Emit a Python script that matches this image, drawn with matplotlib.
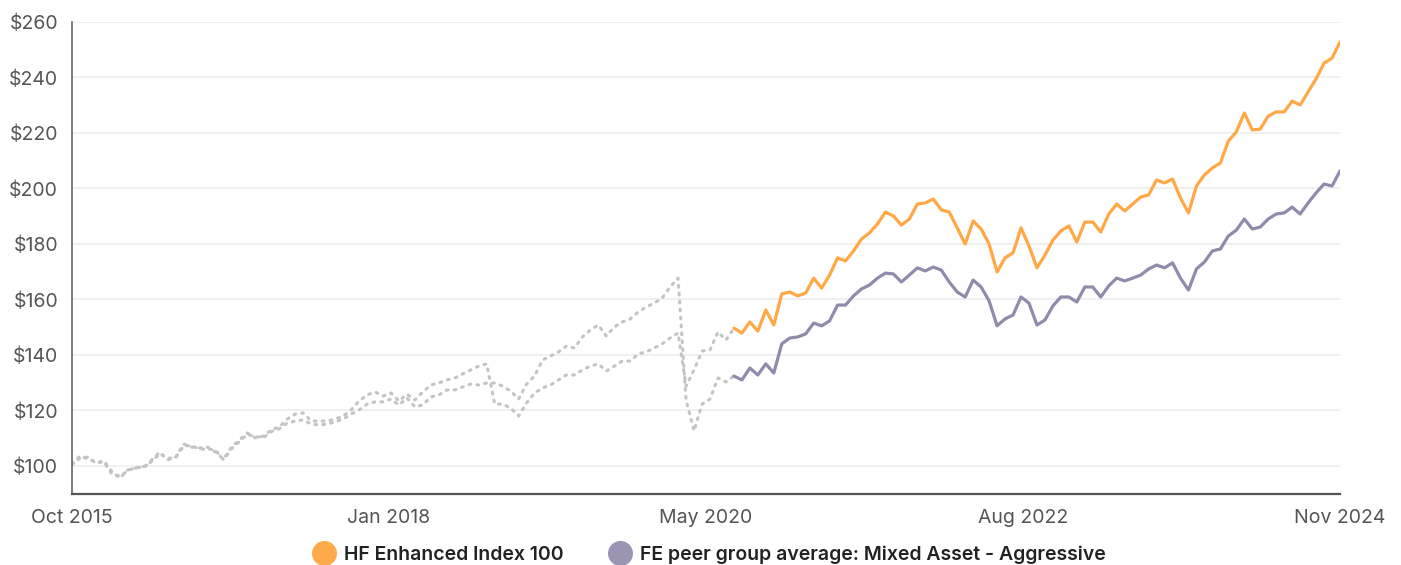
import matplotlib
matplotlib.use("Agg")
import matplotlib.pyplot as plt
import matplotlib.dates as mdates
from matplotlib.lines import Line2D
import numpy as np
import pandas as pd

plt.rcParams['font.family'] = ['Inter', 'DejaVu Sans']

# ---------------- data ----------------
start_date = "2015-10-30"
end_date = "2024-11-01"
n_points = 160
split_index = 83  # simulated (dotted) history up to this point, live afterwards

series_names = ["HF Enhanced Index 100", "FE peer group average: Mixed Asset - Aggressive"]

hf_values = [
    100.7, 103.6, 102.5, 101.4, 101.4, 97.1, 96.4, 98.2, 99.6, 99.3,
    102.2, 105.0, 102.2, 103.2, 107.9, 106.8, 106.5, 106.8, 105.0, 102.5,
    106.8, 109.4, 111.9, 110.1, 110.8, 113.0, 114.1,
    116.9, 118.7, 119.1, 116.2, 116.2, 116.2, 116.9, 118.0, 120.2, 123.4,
    125.6, 126.7, 125.2, 126.3, 123.4, 125.9, 123.8, 126.7, 129.2, 129.9,
    131.0, 131.7, 133.2, 134.6, 136.0, 136.8, 122.3,
    122.3, 120.9, 118.0, 122.7, 126.3, 128.1, 129.2, 131.0, 132.8, 132.8,
    134.6, 136.0, 136.8, 134.2, 136.0, 137.8, 137.8, 140.4, 141.1, 142.5,
    144.0, 146.1, 147.9, 128.8, 134.6, 141.4, 141.8, 148.3, 145.4, 149.7,
    147.9, 151.9, 148.6, 156.2, 150.8, 162.0, 162.7, 161.3, 162.3, 167.7,
    164.1, 168.8, 175.0, 173.9, 177.5, 181.8, 184.0, 187.2, 191.5, 190.1,
    186.8, 189.0, 194.4, 194.8, 196.2, 192.3, 191.5, 185.8, 180.0, 188.3,
    185.4, 180.0, 169.9, 175.0, 176.8, 185.8, 179.3, 171.4, 176.0, 181.4,
    184.7, 186.5, 180.7, 187.9, 187.9, 184.3, 190.8, 194.4, 191.9, 194.4,
    196.9, 197.7, 203.1, 202.0, 203.4, 196.6, 191.2, 200.9, 204.9, 207.4,
    209.2, 217.1, 220.4, 227.2, 221.1, 221.4, 226.1, 227.6, 227.6, 231.5,
    230.1, 234.8, 239.5, 245.2, 247.0, 252.8,
]

fe_values = [
    100.5, 102.8, 103.2, 101.0, 101.8, 98.0, 95.6, 98.6, 99.2, 99.8,
    101.6, 104.4, 102.8, 103.0, 107.2, 107.4, 106.0, 106.2, 105.6, 102.2,
    106.2, 108.8, 111.4, 110.6, 110.2, 112.4, 113.4,
    115.5, 116.2, 116.6, 115.1, 114.8, 115.1, 115.9, 116.9, 118.7, 120.2,
    122.3, 123.1, 123.1, 124.1, 122.0, 124.5, 121.3, 122.0, 124.9, 125.6,
    127.4, 127.4, 128.5, 129.5, 129.2, 129.9, 129.9,
    128.8, 127.0, 124.1, 129.5, 132.4, 138.2, 139.6, 141.1, 143.2, 142.5,
    146.5, 149.0, 150.8, 146.8, 150.1, 151.9, 153.0, 155.5, 157.3, 158.7,
    160.5, 164.5, 167.7, 123.8, 112.6, 122.3, 124.1, 131.7, 130.3, 132.4,
    131.0, 135.3, 132.8, 136.8, 133.5, 144.0, 146.1, 146.5, 147.6, 151.5,
    150.5, 152.3, 158.0, 158.0, 161.3, 163.8, 165.2, 167.7, 169.5, 169.2,
    166.3, 168.8, 171.4, 170.3, 171.7, 170.6, 166.3, 162.7, 160.9, 167.0,
    164.5, 159.5, 150.5, 153.0, 154.4, 160.9, 158.7, 150.8, 152.6, 157.7,
    160.9, 160.9, 159.1, 164.5, 164.5, 160.9, 164.9, 167.7, 166.7, 167.7,
    168.8, 171.0, 172.4, 171.4, 173.2, 167.7, 163.4, 171.0, 173.5, 177.5,
    178.2, 182.9, 185.0, 189.0, 185.4, 186.1, 189.0, 190.8, 191.2, 193.3,
    190.8, 194.8, 198.4, 201.6, 200.9, 206.3,
]

y_ticks = [100, 120, 140, 160, 180, 200, 220, 240, 260]

# ---------------- style ----------------
orange = "#FFA845"
purple = "#918BAB"
grey_dots = "#C4C4C4"
text_col = "#555555"

dates = pd.date_range(start_date, end_date, periods=n_points)

fig = plt.figure(figsize=(14.01, 5.65), dpi=100)
ax = fig.add_axes([72 / 1401, 71 / 565, (1340 - 72) / 1401, (494 - 22) / 565])

for vals, col in [(hf_values, orange), (fe_values, purple)]:
    ax.plot(dates[:split_index + 1], vals[:split_index + 1], color=grey_dots,
            lw=2.2, linestyle=(0, (0.6, 2.0)), dash_capstyle='round', zorder=2)
    ax.plot(dates[split_index:], vals[split_index:], color=col, lw=2.3,
            solid_joinstyle='round', solid_capstyle='round', zorder=3)

ax.set_xlim(dates[0], dates[-1])
ax.set_ylim(89.9, 260)
ax.set_yticks(y_ticks)
ax.set_yticklabels([f"${v}" for v in y_ticks])
for v in y_ticks:
    ax.axhline(v, color="#EEEEEE", lw=1.2, zorder=1)

xnum = mdates.date2num(dates)
tick_pos = np.linspace(xnum[0], xnum[-1], 5)
ax.set_xticks(tick_pos)
ax.set_xticklabels([mdates.num2date(t).strftime("%b %Y") for t in tick_pos])

ax.tick_params(axis='both', length=0, labelsize=14, labelcolor=text_col)
ax.tick_params(axis='y', pad=10)
ax.tick_params(axis='x', pad=11)

for s in ['top', 'right']:
    ax.spines[s].set_visible(False)
ax.spines['left'].set_color("#666666")
ax.spines['left'].set_linewidth(1.2)
ax.spines['bottom'].set_color("#555555")
ax.spines['bottom'].set_linewidth(1.6)

handles = [Line2D([], [], linestyle='none', marker='o', markersize=17,
                  markerfacecolor=c, markeredgecolor=c)
           for c in ["#FFAB4C", "#9B95B3"]]
fig.legend(handles, series_names, loc='center', bbox_to_anchor=(710 / 1401, 10 / 565),
           ncol=2, frameon=False, handletextpad=0.55, columnspacing=2.4,
           prop={'size': 14, 'weight': 'semibold'}, labelcolor="#222222",
           handlelength=1.0)

fig.savefig("out.png", dpi=100)
